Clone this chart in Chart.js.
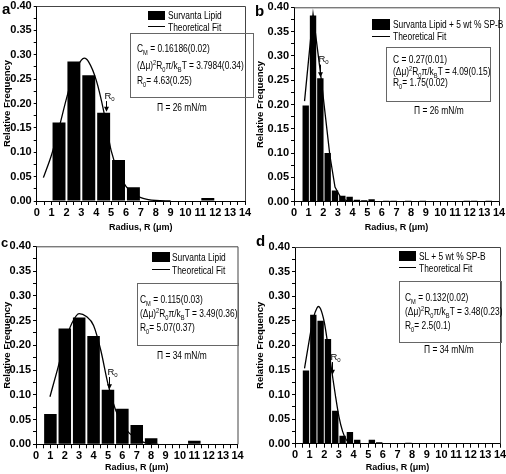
<!DOCTYPE html>
<html>
<head>
<meta charset="utf-8">
<script src="https://cdn.jsdelivr.net/npm/chart.js@4.4.0/dist/chart.umd.min.js"></script>
<style>
html, body { margin: 0; padding: 0; background: #fff; }
#fig { position: relative; width: 506px; height: 474px; overflow: hidden;
       font-family: "Liberation Sans", Arial, sans-serif; color: #000; }
.panel { position: absolute; width: 253px; height: 237px; }
.panel canvas { position: absolute; left: 0; top: 0; }
.t { position: absolute; white-space: nowrap; font-size: 10.5px; line-height: 12px;
     transform: translateY(-50%) scaleX(0.8); transform-origin: left center; }
.sw { position: absolute; background: #000; }
.ln { position: absolute; height: 0; border-top: 1.4px solid #000; }
.box { position: absolute; border: 1px solid #666; }
.let { position: absolute; font: bold 15px "Liberation Sans", Arial, sans-serif; line-height: 15px; }
sub, sup { font-size: 68%; line-height: 0; }
</style>
</head>
<body>
<div id="fig">
  <div class="panel" style="left:0;top:0">
    <canvas id="chart-a" width="253" height="237"></canvas>
    <div class="let" style="left:2px;top:1px">a</div>
    <div class="sw" style="left:148px;top:11px;width:17px;height:9px"></div>
    <div class="t" style="left:168px;top:15px">Survanta Lipid</div>
    <div class="ln" style="left:148px;top:26px;width:17px"></div>
    <div class="t" style="left:168px;top:26.5px">Theoretical Fit</div>
    <div class="box" style="left:130px;top:33px;width:122px;height:63px"></div>
    <div class="t" style="left:137px;top:48px">C<sub>M</sub> = 0.16186(0.02)</div>
    <div class="t" style="left:137px;top:65px">(Δμ)<sup>2</sup>R<sub>0</sub>π/k<sub>B</sub>T = 3.7984(0.34)</div>
    <div class="t" style="left:137px;top:80px">R<sub>0</sub>= 4.63(0.25)</div>
    <div class="t" style="left:157px;top:107px">Π = 26 mN/m</div>
  </div>
  <div class="panel" style="left:253px;top:0">
    <canvas id="chart-b" width="253" height="237"></canvas>
    <div class="let" style="left:2px;top:3px">b</div>
    <div class="sw" style="left:119px;top:18.5px;width:18px;height:11px"></div>
    <div class="t" style="left:139.5px;top:24px">Survanta Lipid + 5 wt % SP-B</div>
    <div class="ln" style="left:119px;top:36px;width:18px"></div>
    <div class="t" style="left:139.5px;top:36px">Theoretical Fit</div>
    <div class="box" style="left:133px;top:46.5px;width:103px;height:53px"></div>
    <div class="t" style="left:139.5px;top:59px">C = 0.27(0.01)</div>
    <div class="t" style="left:139.5px;top:71px">(Δμ)<sup>2</sup>R<sub>0</sub>π/k<sub>B</sub>T = 4.09(0.15)</div>
    <div class="t" style="left:139.5px;top:82px">R<sub>0</sub>= 1.75(0.02)</div>
    <div class="t" style="left:161px;top:110px">Π = 26 mN/m</div>
  </div>
  <div class="panel" style="left:0;top:237px">
    <canvas id="chart-c" width="253" height="237"></canvas>
    <div class="let" style="left:1px;top:-2px;font-size:13px">c</div>
    <div class="sw" style="left:152px;top:15px;width:18px;height:10px"></div>
    <div class="t" style="left:172px;top:20px">Survanta Lipid</div>
    <div class="ln" style="left:152px;top:32px;width:18px"></div>
    <div class="t" style="left:172px;top:32.5px">Theoretical Fit</div>
    <div class="box" style="left:137px;top:45.5px;width:100px;height:61px"></div>
    <div class="t" style="left:140px;top:62px">C<sub>M</sub> = 0.115(0.03)</div>
    <div class="t" style="left:140px;top:76px">(Δμ)<sup>2</sup>R<sub>0</sub>π/k<sub>B</sub>T = 3.49(0.36)</div>
    <div class="t" style="left:140px;top:90px">R<sub>0</sub>= 5.07(0.37)</div>
    <div class="t" style="left:157px;top:118px">Π = 34 mN/m</div>
  </div>
  <div class="panel" style="left:253px;top:237px">
    <canvas id="chart-d" width="253" height="237"></canvas>
    <div class="let" style="left:3px;top:-4px">d</div>
    <div class="sw" style="left:146px;top:14px;width:17px;height:10px"></div>
    <div class="t" style="left:166px;top:19px">SL + 5 wt % SP-B</div>
    <div class="ln" style="left:146px;top:30px;width:17px"></div>
    <div class="t" style="left:166px;top:30.5px">Theoretical Fit</div>
    <div class="box" style="left:146px;top:44px;width:101px;height:60px"></div>
    <div class="t" style="left:152px;top:60px">C<sub>M</sub> = 0.132(0.02)</div>
    <div class="t" style="left:152px;top:74px">(Δμ)<sup>2</sup>R<sub>0</sub>π/k<sub>B</sub>T = 3.48(0.23)</div>
    <div class="t" style="left:152px;top:87.5px">R<sub>0</sub>= 2.5(0.1)</div>
    <div class="t" style="left:171px;top:112px">Π = 34 mN/m</div>
  </div>
</div>
<script>
// (a) Survanta lipid, 26 mN/m
const aRadius = [1.5, 2.5, 3.5, 4.5, 5.5, 6.5, 11.5];
const aFreq = [0.161, 0.286, 0.258, 0.181, 0.084, 0.028, 0.006];
const aFitR = [0.45, 1, 1.5, 2, 2.5, 3, 3.2, 3.5, 4, 4.5, 5, 5.5, 6, 6.5, 7, 7.5, 8, 9];
const aFitF = [0.048, 0.095, 0.15, 0.21, 0.262, 0.289, 0.293, 0.285, 0.248, 0.185, 0.104, 0.058, 0.03, 0.015, 0.007, 0.003, 0.001, 0];

// (b) Survanta lipid + 5 wt % SP-B, 26 mN/m
const bRadius = [0.8, 1.3, 1.8, 2.3, 2.8, 3.3, 3.8, 4.3, 4.8, 5.3, 6.3, 6.8, 7.8, 8.8, 11.8, 12.3, 13.3];
const bFreq = [0.198, 0.383, 0.254, 0.1, 0.023, 0.012, 0.01, 0.004, 0.003, 0.005, 0.002, 0.002, 0.002, 0.002, 0.002, 0.002, 0.002];
const bFitR = [0.72, 1.3, 1.82, 2.45, 2.8, 3.2, 3.6, 4.2];
const bFitF = [0.207, 0.386, 0.262, 0.095, 0.03, 0.008, 0.002, 0];

// (c) Survanta lipid, 34 mN/m
const cRadius = [1, 2, 3, 4, 5, 6, 7, 8, 11];
const cFreq = [0.061, 0.234, 0.256, 0.219, 0.11, 0.072, 0.039, 0.012, 0.007];
const cFitR = [0.97, 1.5, 2, 2.5, 3, 3.5, 4, 4.5, 5, 5.5, 6, 6.5, 7, 7.5, 8, 8.5];
const cFitF = [0.096, 0.152, 0.205, 0.245, 0.264, 0.258, 0.24, 0.19, 0.122, 0.072, 0.04, 0.022, 0.011, 0.004, 0.001, 0];

// (d) SL + 5 wt % SP-B, 34 mN/m
const dRadius = [0.75, 1.25, 1.75, 2.25, 2.75, 3.25, 3.75, 4.25, 5.25, 5.75, 7.75];
const dFreq = [0.149, 0.262, 0.25, 0.213, 0.067, 0.016, 0.024, 0.008, 0.008, 0.003, 0.002];
const dFitR = [0.65, 1, 1.25, 1.5, 1.6, 1.75, 2, 2.25, 2.5, 2.75, 3, 3.25, 3.5, 3.75, 4];
const dFitF = [0.153, 0.215, 0.255, 0.276, 0.279, 0.274, 0.247, 0.2, 0.15, 0.1, 0.055, 0.025, 0.008, 0.002, 0];

// R0 arrow: [R0, arrow start, arrow tip] for each panel
const aArrow = [4.63, 0.205, 0.183];
const bArrow = [1.75, 0.282, 0.256];
const cArrow = [5.07, 0.136, 0.111];
const dArrow = [2.5, 0.166, 0.14];

const xTicks = { min: 0, max: 14, step: 0.5 };
const yTicks = { min: 0, max: 0.4, step: 0.025 };

Chart.defaults.font.family = '"Liberation Sans", Arial, sans-serif';
Chart.defaults.color = '#000';

//frame + R0 arrow
const extras = {
    id: 'extras',
    afterDatasetsDraw(chart, args, opts) {
        const { ctx, chartArea: ca } = chart;
        const x = chart.scales.x, y = chart.scales.y;
        ctx.save();
        ctx.strokeStyle = '#444';
        ctx.lineWidth = 1;
        ctx.beginPath();
        ctx.moveTo(ca.left, ca.top + 0.5);
        ctx.lineTo(ca.right + 0.5, ca.top + 0.5);
        ctx.lineTo(ca.right + 0.5, ca.bottom);
        ctx.stroke();

        const px = Math.round(x.getPixelForValue(opts.arrow[0])) + 0.5;
        const y1 = y.getPixelForValue(opts.arrow[1]);
        const y2 = y.getPixelForValue(opts.arrow[2]);
        ctx.strokeStyle = '#000';
        ctx.fillStyle = '#000';
        ctx.beginPath();
        ctx.moveTo(px, y1);
        ctx.lineTo(px, y2 - 3);
        ctx.stroke();
        ctx.beginPath();
        ctx.moveTo(px - 2.5, y2 - 5);
        ctx.lineTo(px + 2.5, y2 - 5);
        ctx.lineTo(px, y2);
        ctx.closePath();
        ctx.fill();

        ctx.textBaseline = 'middle';
        ctx.font = '9.5px ' + Chart.defaults.font.family;
        ctx.fillText('R', px - 2, y1 - 5);
        const w = ctx.measureText('R').width;
        ctx.font = '6px ' + Chart.defaults.font.family;
        ctx.fillText('0', px - 2 + w, y1 - 2);
        ctx.restore();
    }
};

// binWidth: spacing of the histogram bins; ticks are every 0.5 so the ruler is 0.5
function makePanel(id, radius, freq, fitR, fitF, tension, arrow, binWidth, area) {
    const H = 237;
    const bars = radius.map((r, i) => ({ x: r, y: freq[i] }));
    const fit = fitR.map((r, i) => ({ x: r, y: fitF[i] }));
    return new Chart(document.getElementById(id), {
        type: 'bar',
        data: {
            datasets: [
                {
                    type: 'bar',
                    data: bars,
                    backgroundColor: '#000',
                    borderWidth: 0,
                    barPercentage: 0.87 * binWidth / xTicks.step,
                    categoryPercentage: 1,
                    order: 0,
                },
                {
                    type: 'line',
                    data: fit,
                    borderColor: '#000',
                    borderWidth: 1.3,
                    pointRadius: 0,
                    fill: false,
                    tension: tension,
                    cubicInterpolationMode: tension > 0 ? 'monotone' : 'default',
                    order: 1,
                }
            ]
        },
        options: {
            responsive: false,
            animation: false,
            devicePixelRatio: 1,
            layout: { padding: { left: 0, top: area.t, right: 253 - area.r, bottom: 0 } },
            plugins: {
                legend: { display: false },
                tooltip: { enabled: false },
                extras: { arrow: arrow },
            },
            scales: {
                x: {
                    type: 'linear',
                    min: xTicks.min,
                    max: xTicks.max,
                    offset: false,
                    border: { color: '#000', width: 1 },
                    grid: { drawOnChartArea: false, offset: false, tickLength: 4, tickColor: '#000' },
                    ticks: {
                        stepSize: xTicks.step,
                        autoSkip: false,
                        maxRotation: 0,
                        padding: 1,
                        font: { size: 11, weight: 'bold' },
                        callback: v => Number.isInteger(v) ? v : '',
                    },
                    title: {
                        display: true,
                        text: 'Radius, R (μm)',
                        font: { size: 9, weight: 'bold' },
                        padding: { top: 0, bottom: area.tp },
                    },
                    afterFit: s => {
                        s.height = H - area.b;
                        s.paddingLeft = 0;
                        s.paddingRight = 0;
                    },
                },
                y: {
                    min: yTicks.min,
                    max: yTicks.max,
                    border: { color: '#000', width: 1 },
                    grid: { drawOnChartArea: false, tickLength: 3, tickColor: '#000' },
                    ticks: {
                        stepSize: yTicks.step,
                        autoSkip: false,
                        padding: 2,
                        font: { size: 11, weight: 'bold' },
                        callback: v => (Math.round(v * 1000) % 50 === 0) ? v.toFixed(2) : '',
                    },
                    title: {
                        display: true,
                        text: 'Relative Frequency',
                        font: { size: 9.5, weight: 'bold' },
                        padding: { top: 1.5, bottom: 0 },
                    },
                    afterFit: s => {
                        s.width = area.l;
                        s.paddingTop = 0;
                        s.paddingBottom = 0;
                    },
                }
            }
        },
        plugins: [extras]
    });
}

makePanel('chart-a', aRadius, aFreq, aFitR, aFitF, 0.4, aArrow, 1, { l: 36.7, t: 6, r: 245, b: 201, tp: 4 });
makePanel('chart-b', bRadius, bFreq, bFitR, bFitF, 0, bArrow, 0.5, { l: 41, t: 7.3, r: 246, b: 201.7, tp: 4 });
makePanel('chart-c', cRadius, cFreq, cFitR, cFitF, 0.4, cArrow, 1, { l: 36, t: 9.3, r: 237.5, b: 207.3, tp: 1 });
makePanel('chart-d', dRadius, dFreq, dFitR, dFitF, 0.4, dArrow, 0.5, { l: 42, t: 10, r: 247, b: 206.7, tp: 1 });
</script>
</body>
</html>
